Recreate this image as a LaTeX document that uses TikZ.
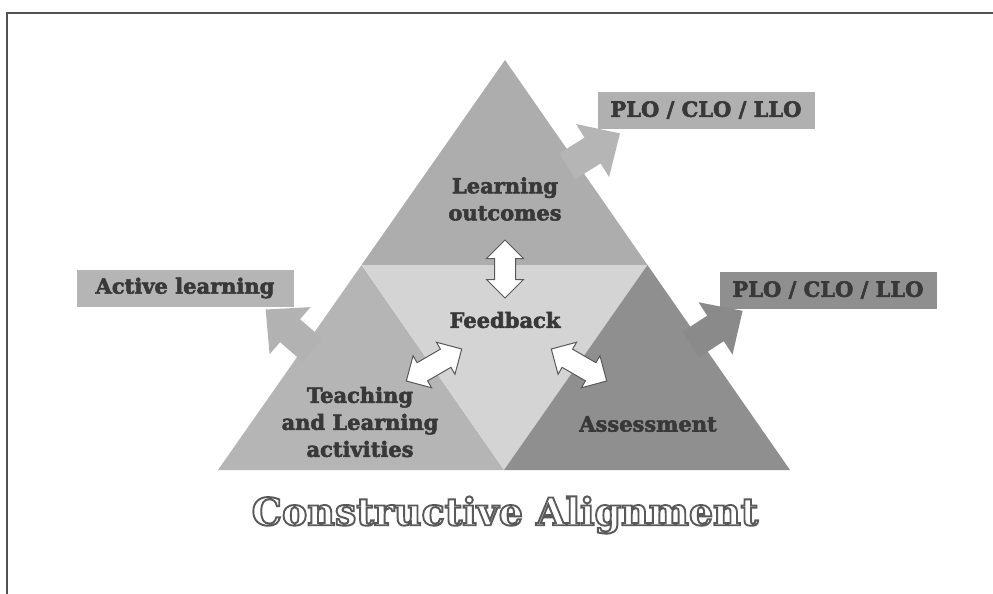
\documentclass[tikz,border=0pt]{standalone}
\usepackage{fontspec}
\setmainfont{DejaVu Serif}
\newfontfamily\heavyfont[FakeBold=2.5]{DejaVu Serif Bold}
\newfontfamily\titlefont[FakeBold=5]{DejaVu Serif Bold}
\usetikzlibrary{shapes.arrows}
\definecolor{topg}{gray}{0.68}
\definecolor{leftg}{gray}{0.71}
\definecolor{midg}{gray}{0.83}
\definecolor{rightg}{gray}{0.56}
\definecolor{boxa}{gray}{0.69}
\definecolor{boxb}{gray}{0.56}
\definecolor{boxc}{gray}{0.71}
\definecolor{arra}{gray}{0.71}
\definecolor{arrb}{gray}{0.54}
\definecolor{arrc}{gray}{0.70}
\definecolor{txt}{gray}{0.22}
\definecolor{frm}{gray}{0.32}
\definecolor{dline}{gray}{0.35}
\begin{document}
\begin{tikzpicture}[x=1pt,y=-1pt,
  lbl/.style={font=\heavyfont\fontsize{21}{27}\selectfont, text=txt, align=center},
  box/.style={lbl, minimum width=217, minimum height=37, inner sep=0},
  blk/.style={single arrow, inner sep=0, inner ysep=15, single arrow head extend=16, single arrow tip angle=88, minimum height=62},
  dbl/.style={double arrow, fill=white, draw=dline, line width=1, inner sep=0, inner ysep=10, double arrow head extend=8, double arrow tip angle=90, minimum height=64},
  frame/.style={draw=frm, line width=2},
  ttl/.style={font=\titlefont\fontsize{38}{44}\selectfont}
]
\useasboundingbox (0,0) rectangle (993,594);
\fill[white] (0,0) rectangle (993,594);
% frame
\coordinate (f0) at (7,13);
\coordinate (f1) at (993,13);
\coordinate (f2) at (7,594);
\draw[frame] (f1) -- (f0) -- (f2);
% triangle
\coordinate (A) at (505,60);
\coordinate (BL) at (218,470);
\coordinate (BR) at (790,470);
\coordinate (ML) at (361.5,265);
\coordinate (MR) at (647.5,265);
\coordinate (MB) at (504,470);
\fill[topg] (A) -- (MR) -- (ML) -- cycle;
\fill[leftg] (ML) -- (MB) -- (BL) -- cycle;
\fill[midg] (ML) -- (MR) -- (MB) -- cycle;
\fill[rightg] (MR) -- (BR) -- (MB) -- cycle;
% texts
\node[lbl] (lo) at (505,199) {Learning\\outcomes};
\node[lbl] (fb) at (505,320) {Feedback};
\node[lbl] (tl) at (360,422) {Teaching\\and Learning\\activities};
\node[lbl] (as) at (648,424) {Assessment};
% boxes
\node[box, fill=boxa] (plo1) at (706,110) {PLO / CLO / LLO};
\node[box, fill=boxb] (plo2) at (828,290) {PLO / CLO / LLO};
\node[box, fill=boxc] (al) at (185,288) {Active learning};
% outward block arrows
\node[blk, fill=arra, rotate=32] (ar1) at (587,154) {};
\node[blk, fill=arrb, rotate=33] (ar2) at (710,332) {};
\node[blk, fill=arrc, rotate=139] (ar3) at (295,335) {};
% double arrows
\node[dbl, rotate=90, minimum height=58] (d1) at (505,269) {};
\node[dbl, rotate=30] (d2) at (434,365) {};
\node[dbl, rotate=-30] (d3) at (579,365) {};
% title: white fill with grey outline (stroke colour set after fill colour)
\node[ttl] (title) at (505,515) {\color{white}\special{pdf:code 0.35 G}Constructive Alignment};
\end{tikzpicture}
\end{document}
